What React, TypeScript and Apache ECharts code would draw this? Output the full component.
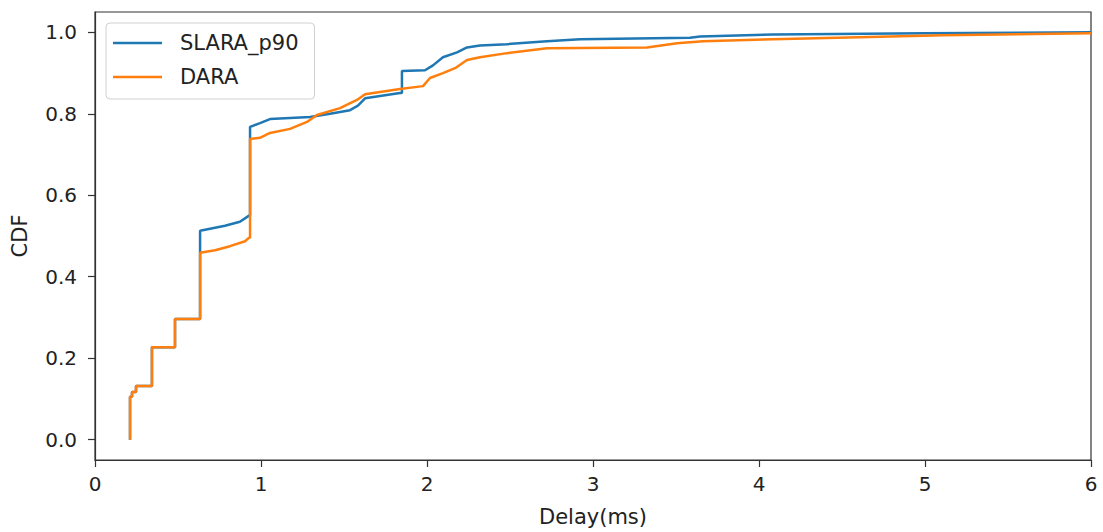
import React, { useEffect, useRef } from "react";
import * as echarts from "echarts";

// SLARA_p90 CDF (polyline, repeated delay = vertical jump)
const slaraDelay = [0.211, 0.211, 0.223, 0.223, 0.247, 0.247, 0.343, 0.343, 0.482, 0.482, 0.633, 0.633, 0.693, 0.783, 0.873, 0.928, 0.934, 0.934, 0.994, 1.054, 1.295, 1.416, 1.536, 1.584, 1.627, 1.837, 1.849, 1.849, 1.988, 2.036, 2.096, 2.181, 2.241, 2.319, 2.482, 2.723, 2.922, 3.584, 3.645, 4.084, 5.0, 6.0];
const slaraCdf = [0.0, 0.105, 0.105, 0.117, 0.117, 0.132, 0.132, 0.227, 0.227, 0.296, 0.296, 0.513, 0.518, 0.525, 0.535, 0.55, 0.55, 0.768, 0.777, 0.787, 0.792, 0.8, 0.809, 0.82, 0.838, 0.851, 0.851, 0.905, 0.907, 0.919, 0.939, 0.951, 0.963, 0.968, 0.971, 0.978, 0.983, 0.987, 0.99, 0.995, 0.998, 1.0];

// DARA CDF
const daraDelay = [0.211, 0.211, 0.223, 0.223, 0.247, 0.247, 0.343, 0.343, 0.482, 0.482, 0.633, 0.633, 0.723, 0.813, 0.904, 0.928, 0.934, 0.934, 0.994, 1.054, 1.175, 1.277, 1.337, 1.476, 1.578, 1.627, 1.837, 1.976, 2.018, 2.096, 2.169, 2.241, 2.319, 2.482, 2.723, 3.325, 3.506, 3.663, 4.084, 4.6, 5.108, 6.0];
const daraCdf = [0.0, 0.105, 0.105, 0.117, 0.117, 0.132, 0.132, 0.227, 0.227, 0.296, 0.296, 0.459, 0.465, 0.475, 0.487, 0.496, 0.496, 0.738, 0.741, 0.753, 0.763, 0.78, 0.797, 0.814, 0.834, 0.848, 0.861, 0.868, 0.888, 0.9, 0.912, 0.932, 0.939, 0.949, 0.961, 0.963, 0.973, 0.978, 0.983, 0.988, 0.993, 0.998];

const yTicks = [0, 0.2, 0.4, 0.6, 0.8, 1.0];
const xTicks = [0, 1, 2, 3, 4, 5, 6];

const FONT = "DejaVu Sans";

export default function App() {
  const ref = useRef<HTMLDivElement>(null);
  useEffect(() => {
    if (!ref.current) return;
    const chart = echarts.init(ref.current, undefined, { renderer: "svg" });
    const pairs = (xs: number[], ys: number[]) => xs.map((x, i) => [x, ys[i]]);
    chart.setOption({
      animation: false,
      backgroundColor: "#ffffff",
      grid: {
        left: 95,
        right: 12,
        top: 12,
        bottom: 71,
        show: true,
        borderColor: "#333",
        borderWidth: 1.2,
        containLabel: false,
      },
      legend: {
        show: true,
        orient: "vertical",
        left: 106,
        top: 23,
        padding: [8, 16, 10, 7],
        itemGap: 10,
        itemWidth: 49,
        itemHeight: 2.5,
        icon: "rect",
        backgroundColor: "#ffffff",
        borderColor: "#d0d0d0",
        borderWidth: 1,
        borderRadius: 4,
        textStyle: {
          fontFamily: FONT,
          fontSize: 21,
          color: "#222",
          lineHeight: 24,
          padding: [0, 0, 0, 13],
        },
        data: ["SLARA_p90", "DARA"],
      },
      xAxis: {
        type: "value",
        min: 0,
        max: 6,
        interval: 1,
        name: "Delay(ms)",
        nameLocation: "middle",
        nameGap: 46,
        nameTextStyle: { fontFamily: FONT, fontSize: 21, color: "#222" },
        axisLine: { show: true, onZero: false, lineStyle: { color: "#333", width: 1.2 } },
        axisTick: { show: true, length: 7, lineStyle: { color: "#333", width: 1.2 } },
        axisLabel: {
          fontFamily: FONT,
          fontSize: 20,
          color: "#222",
          margin: 14,
          customValues: xTicks,
        },
        splitLine: { show: false },
      },
      yAxis: {
        type: "value",
        min: -0.05,
        max: 1.05,
        name: "CDF",
        nameLocation: "middle",
        nameGap: 65,
        nameRotate: 90,
        nameTextStyle: { fontFamily: FONT, fontSize: 21, color: "#222" },
        axisLine: { show: true, onZero: false, lineStyle: { color: "#333", width: 1.2 } },
        axisTick: { show: true, length: 7, customValues: yTicks, lineStyle: { color: "#333", width: 1.2 } },
        axisLabel: {
          fontFamily: FONT,
          fontSize: 20,
          color: "#222",
          margin: 18,
          customValues: yTicks,
          formatter: (v: number) => v.toFixed(1),
        },
        splitLine: { show: false },
      },
      series: [
        {
          name: "SLARA_p90",
          type: "line",
          data: pairs(slaraDelay, slaraCdf),
          symbol: "none",
          showSymbol: false,
          lineStyle: { color: "#1f77b4", width: 2.5 },
          itemStyle: { color: "#1f77b4" },
          z: 2,
        },
        {
          name: "DARA",
          type: "line",
          data: pairs(daraDelay, daraCdf),
          symbol: "none",
          showSymbol: false,
          lineStyle: { color: "#ff7f0e", width: 2.5 },
          itemStyle: { color: "#ff7f0e" },
          z: 3,
        },
      ],
    });
    return () => chart.dispose();
  }, []);
  return (
    <div
      ref={ref}
      style={{ position: "fixed", left: 0, top: 0, width: 1103, height: 532 }}
    />
  );
}
